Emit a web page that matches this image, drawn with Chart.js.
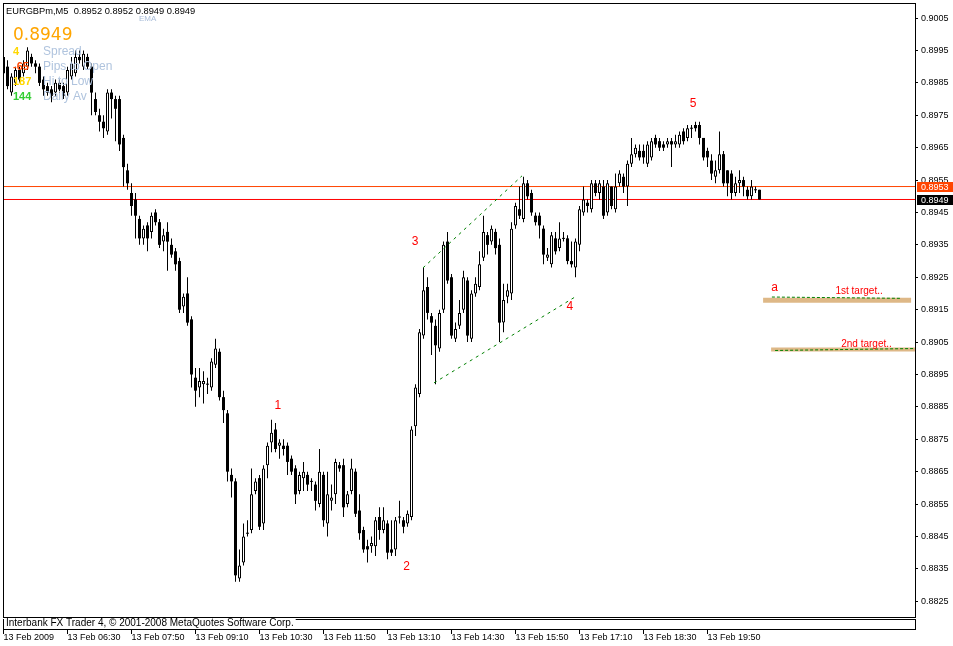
<!DOCTYPE html>
<html>
<head>
<meta charset="utf-8">
<title>EURGBPm,M5</title>
<script src="https://cdn.jsdelivr.net/npm/chart.js@4.4.1/dist/chart.umd.min.js"></script>
<style>
html,body{margin:0;padding:0;background:#ffffff;overflow:hidden;}
canvas{display:block;}
</style>
</head>
<body>
<canvas id="chart" width="953" height="646"></canvas>
<script>
// ---------------- data ----------------
const symbolTitle = 'EURGBPm,M5  0.8952 0.8952 0.8949 0.8949';
const lastPriceText = '0.8949';

const opens = [
0.8993,0.8990,0.8982,0.8985,0.8989,0.8988,0.8990,0.8993,0.8991,0.8990,
0.8986,0.8984,0.8983,0.8982,0.8985,0.8984,0.8982,0.8987,0.8988,0.8993,
0.8990,0.8993,0.8990,0.8980,0.8975,0.8973,0.8970,0.8982,0.8980,0.8980,
0.8968,0.8958,0.8951,0.8949,0.8943,0.8937,0.8941,0.8939,0.8945,0.8942,
0.8936,0.8939,0.8935,0.8933,0.8930,0.8916,0.8920,0.8912,0.8894,0.8891,
0.8892,0.8892,0.8891,0.8898,0.8902,0.8888,0.8883,0.8864,0.8862,0.8832,
0.8837,0.8846,0.8847,0.8859,0.8863,0.8849,0.8867,0.8874,0.8878,0.8873,
0.8873,0.8873,0.8869,0.8866,0.8859,0.8863,0.8864,0.8862,0.8861,0.8855,
0.8864,0.8849,0.8856,0.8858,0.8867,0.8867,0.8855,0.8859,0.8865,0.8853,
0.8847,0.8842,0.8842,0.8842,0.8851,0.8847,0.8849,0.8841,0.8841,0.8851,
0.8850,0.8849,0.8851,0.8879,0.8889,0.8907,0.8922,0.8913,0.8910,0.8903,
0.8915,0.8936,0.8925,0.8906,0.8910,0.8915,0.8924,0.8906,0.8920,0.8922,
0.8931,0.8938,0.8936,0.8939,0.8935,0.8911,0.8919,0.8920,0.8941,0.8946,
0.8943,0.8954,0.8951,0.8944,0.8944,0.8940,0.8931,0.8929,0.8937,0.8934,
0.8937,0.8937,0.8930,0.8928,0.8935,0.8945,0.8948,0.8946,0.8954,0.8951,
0.8953,0.8945,0.8953,0.8946,0.8954,0.8956,0.8953,0.8960,0.8963,0.8964,
0.8964,0.8960,0.8962,0.8968,0.8967,0.8966,0.8966,0.8967,0.8966,0.8966,
0.8970,0.8968,0.8971,0.8972,0.8972,0.8968,0.8964,0.8961,0.8956,0.8958,
0.8963,0.8958,0.8957,0.8951,0.8954,0.8955,0.8952,0.8950,0.8952,0.8952];

const highs = [
0.8994,0.8992,0.8988,0.8990,0.8990,0.8992,0.8996,0.8994,0.8992,0.8991,
0.8987,0.8985,0.8984,0.8986,0.8986,0.8985,0.8990,0.8993,0.8995,0.8995,
0.8995,0.8994,0.8991,0.8982,0.8977,0.8975,0.8983,0.8983,0.8981,0.8981,
0.8969,0.8960,0.8954,0.8951,0.8944,0.8941,0.8942,0.8945,0.8946,0.8943,
0.8940,0.8942,0.8937,0.8934,0.8931,0.8920,0.8925,0.8913,0.8897,0.8897,
0.8896,0.8894,0.8900,0.8906,0.8903,0.8890,0.8884,0.8866,0.8863,0.8841,
0.8849,0.8850,0.8866,0.8863,0.8864,0.8867,0.8874,0.8881,0.8880,0.8875,
0.8875,0.8874,0.8870,0.8867,0.8865,0.8868,0.8865,0.8863,0.8862,0.8872,
0.8865,0.8865,0.8861,0.8869,0.8868,0.8869,0.8859,0.8869,0.8866,0.8858,
0.8848,0.8844,0.8845,0.8851,0.8854,0.8854,0.8850,0.8850,0.8851,0.8856,
0.8851,0.8853,0.8879,0.8892,0.8909,0.8928,0.8925,0.8914,0.8912,0.8915,
0.8936,0.8939,0.8926,0.8911,0.8918,0.8927,0.8925,0.8921,0.8925,0.8933,
0.8944,0.8939,0.8941,0.8940,0.8937,0.8923,0.8923,0.8942,0.8948,0.8953,
0.8956,0.8955,0.8952,0.8945,0.8945,0.8941,0.8934,0.8939,0.8939,0.8942,
0.8939,0.8938,0.8936,0.8937,0.8947,0.8953,0.8949,0.8955,0.8955,0.8955,
0.8955,0.8955,0.8953,0.8957,0.8958,0.8957,0.8961,0.8968,0.8966,0.8966,
0.8966,0.8967,0.8968,0.8969,0.8968,0.8967,0.8968,0.8968,0.8969,0.8970,
0.8971,0.8972,0.8972,0.8973,0.8973,0.8968,0.8965,0.8963,0.8961,0.8970,
0.8964,0.8958,0.8958,0.8956,0.8958,0.8956,0.8953,0.8955,0.8953,0.8952];

const lows = [
0.8987,0.8983,0.8981,0.8984,0.8985,0.8987,0.8989,0.8990,0.8988,0.8984,
0.8981,0.8981,0.8979,0.8981,0.8982,0.8980,0.8981,0.8986,0.8987,0.8991,
0.8989,0.8989,0.8975,0.8975,0.8970,0.8968,0.8969,0.8974,0.8967,0.8964,
0.8953,0.8952,0.8944,0.8937,0.8935,0.8935,0.8933,0.8937,0.8941,0.8934,
0.8933,0.8927,0.8931,0.8927,0.8914,0.8914,0.8910,0.8891,0.8885,0.8888,
0.8886,0.8889,0.8890,0.8897,0.8887,0.8880,0.8862,0.8857,0.8831,0.8831,
0.8836,0.8845,0.8846,0.8858,0.8847,0.8847,0.8863,0.8871,0.8871,0.8869,
0.8870,0.8864,0.8864,0.8855,0.8858,0.8859,0.8859,0.8859,0.8853,0.8854,
0.8848,0.8845,0.8853,0.8855,0.8865,0.8851,0.8854,0.8858,0.8851,0.8844,
0.8840,0.8837,0.8840,0.8839,0.8844,0.8846,0.8838,0.8839,0.8839,0.8849,
0.8846,0.8848,0.8850,0.8876,0.8888,0.8906,0.8912,0.8901,0.8892,0.8902,
0.8914,0.8923,0.8906,0.8905,0.8909,0.8914,0.8905,0.8905,0.8919,0.8921,
0.8930,0.8932,0.8935,0.8932,0.8905,0.8908,0.8917,0.8918,0.8940,0.8943,
0.8942,0.8949,0.8944,0.8941,0.8937,0.8929,0.8930,0.8928,0.8932,0.8933,
0.8936,0.8929,0.8928,0.8925,0.8933,0.8944,0.8945,0.8945,0.8950,0.8949,
0.8943,0.8944,0.8946,0.8945,0.8953,0.8951,0.8947,0.8959,0.8962,0.8961,
0.8960,0.8959,0.8961,0.8965,0.8964,0.8964,0.8965,0.8959,0.8965,0.8965,
0.8966,0.8967,0.8968,0.8970,0.8966,0.8961,0.8959,0.8955,0.8954,0.8957,
0.8953,0.8950,0.8949,0.8950,0.8951,0.8950,0.8949,0.8949,0.8951,0.8949];

const closes = [
0.8988,0.8984,0.8987,0.8989,0.8986,0.8991,0.8995,0.8991,0.8990,0.8985,
0.8983,0.8982,0.8981,0.8985,0.8983,0.8981,0.8989,0.8991,0.8993,0.8992,
0.8994,0.8990,0.8982,0.8976,0.8973,0.8971,0.8982,0.8980,0.8977,0.8966,
0.8959,0.8954,0.8947,0.8944,0.8937,0.8940,0.8937,0.8944,0.8942,0.8935,
0.8938,0.8936,0.8932,0.8929,0.8915,0.8919,0.8911,0.8895,0.8890,0.8893,
0.8893,0.8892,0.8899,0.8903,0.8888,0.8884,0.8865,0.8862,0.8833,0.8836,
0.8845,0.8846,0.8858,0.8862,0.8848,0.8866,0.8873,0.8877,0.8872,0.8874,
0.8872,0.8868,0.8865,0.8858,0.8864,0.8865,0.8861,0.8862,0.8856,0.8865,
0.8850,0.8858,0.8857,0.8868,0.8866,0.8854,0.8858,0.8866,0.8852,0.8846,
0.8841,0.8841,0.8843,0.8850,0.8847,0.8850,0.8840,0.8840,0.8850,0.8851,
0.8848,0.8852,0.8878,0.8891,0.8908,0.8921,0.8914,0.8911,0.8904,0.8914,
0.8935,0.8924,0.8907,0.8909,0.8914,0.8925,0.8907,0.8920,0.8923,0.8929,
0.8939,0.8935,0.8940,0.8934,0.8911,0.8918,0.8921,0.8940,0.8947,0.8944,
0.8954,0.8950,0.8945,0.8942,0.8941,0.8932,0.8932,0.8938,0.8933,0.8937,
0.8937,0.8930,0.8929,0.8936,0.8946,0.8949,0.8947,0.8954,0.8951,0.8954,
0.8944,0.8954,0.8947,0.8953,0.8957,0.8953,0.8960,0.8963,0.8965,0.8962,
0.8962,0.8966,0.8967,0.8966,0.8965,0.8965,0.8967,0.8966,0.8967,0.8969,
0.8967,0.8971,0.8971,0.8971,0.8968,0.8962,0.8962,0.8957,0.8958,0.8963,
0.8954,0.8954,0.8951,0.8954,0.8955,0.8953,0.8950,0.8953,0.8952,0.8949];

const timeLabels = ['13 Feb 2009','13 Feb 06:30','13 Feb 07:50','13 Feb 09:10','13 Feb 10:30','13 Feb 11:50',
  '13 Feb 13:10','13 Feb 14:30','13 Feb 15:50','13 Feb 17:10','13 Feb 18:30','13 Feb 19:50'];
const barsPerTimeLabel = 16;
const priceTicks = [0.8825,0.8835,0.8845,0.8855,0.8865,0.8875,0.8885,0.8895,0.8905,0.8915,
  0.8925,0.8935,0.8945,0.8955,0.8965,0.8975,0.8985,0.8995,0.9005];

const bidPrice = 0.8949;
const askPrice = 0.8953;
const infoValues = ['4', '-65', '187', '144'];
const infoNames = ['Spread', 'Pips to Open', 'Hi to Low', 'Daily Av'];

// objects drawn on the chart (bar index, price)
const upperTrend = [{x:104.875, y:0.89279}, {x:129.625, y:0.89563}];
const lowerTrend = [{x:107.625, y:0.88924}, {x:142.875, y:0.89189}];
const target1Zone = [{x:189.9, y:0.89179}, {x:226.9, y:0.89179}];
const target2Zone = [{x:191.9, y:0.89027}, {x:227.9, y:0.89027}];
const target1Line = [{x:192.1, y:0.89189}, {x:224.1, y:0.89185}];
const target2Line = [{x:192.9, y:0.89024}, {x:227.4, y:0.89030}];
const waveTexts  = ['1', '2', '3', '4', '5', 'a', '1st target..', '2nd target..'];
const waveBars   = [68.6, 100.75, 102.9, 141.6, 172.4, 192.75, 213.9, 215.75];
const wavePrices = [0.88844, 0.88347, 0.89350, 0.89149, 0.89776, 0.89208, 0.89199, 0.89035];

const xMin = -0.125, xMax = 227.875;
const yMin = 0.8820142, yMax = 0.9009648;

// ---------------- build datasets ----------------
const wickData = [], upData = [], downData = [], dojiData = [];
for (let i = 0; i < opens.length; i++) {
  wickData.push({x: i, y: [lows[i], highs[i]]});
  if (closes[i] > opens[i]) upData.push({x: i, y: [opens[i], closes[i]]});
  else if (closes[i] < opens[i]) downData.push({x: i, y: [closes[i], opens[i]]});
  else dojiData.push({x: i, y: closes[i]});
}

const FONT = "'Liberation Sans', Arial, sans-serif";
Chart.defaults.font.family = FONT;

const barCommon = {grouped: false, borderSkipped: false, inflateAmount: 0};
const lineCommon = {type: 'line', pointRadius: 0, fill: false, tension: 0, borderWidth: 1};

const overlay = {
  id: 'mt4overlay',
  afterDatasetsDraw(chart) {
    const {ctx, scales: {x, y}} = chart;
    ctx.save();
    ctx.textBaseline = 'alphabetic';
    ctx.textAlign = 'left';
    ctx.fillStyle = '#000';
    ctx.font = '9.3px ' + FONT;
    ctx.fillText(symbolTitle, 6, 14);
    ctx.fillStyle = '#a8bcd8';
    ctx.font = '8px ' + FONT;
    ctx.fillText('EMA', 139, 21);
    ctx.fillStyle = '#ffa500';
    ctx.font = "17px 'DejaVu Sans', sans-serif";
    ctx.fillText(lastPriceText, 13, 40);
    const valueColors = ['#ffd700', '#ff4500', '#ffd700', '#32cd32'];
    infoValues.forEach((v, k) => {
      const base = 55 + 15 * k;
      ctx.font = 'bold 11px ' + FONT;
      ctx.fillStyle = valueColors[k];
      ctx.fillText(v, 13, base);
      ctx.font = '12px ' + FONT;
      ctx.fillStyle = '#b0c4de';
      ctx.fillText(infoNames[k], 43, base);
    });
    ctx.fillStyle = '#ff0000';
    ctx.textAlign = 'center';
    waveTexts.forEach((t, k) => {
      ctx.font = (t.length > 1 ? '10px ' : '12px ') + FONT;
      ctx.fillText(t, x.getPixelForValue(waveBars[k]), y.getPixelForValue(wavePrices[k]));
    });
    ctx.restore();
  },
  afterDraw(chart) {
    const {ctx, chartArea: a, scales: {y}} = chart;
    ctx.save();
    // lower strip
    ctx.fillStyle = '#fff';
    ctx.fillRect(a.left, a.bottom + 1, a.right - a.left + 1, 12);
    ctx.strokeStyle = '#000';
    ctx.lineWidth = 1;
    ctx.strokeRect(a.left + 0.5, a.top + 0.5, a.right - a.left, a.bottom - a.top);
    ctx.strokeRect(a.left + 0.5, a.bottom + 2.5, a.right - a.left, 10);
    ctx.font = '10px ' + FONT;
    ctx.textAlign = 'left';
    ctx.textBaseline = 'alphabetic';
    const copy = 'Interbank FX Trader 4, \u00A9 2001-2008 MetaQuotes Software Corp.';
    const w = ctx.measureText(copy).width;
    ctx.fillStyle = '#fff';
    ctx.fillRect(a.left + 1, a.bottom + 1, w + 4, 11);
    ctx.fillStyle = '#000';
    ctx.fillText(copy, a.left + 3, a.bottom + 9);
    // price boxes on the axis
    ctx.font = '9px ' + FONT;
    [[askPrice, '#ff4500'], [bidPrice, '#000000']].forEach(([p, col]) => {
      const py = y.getPixelForValue(p);
      const top = Math.round(py - 4.5);
      ctx.fillStyle = col;
      ctx.fillRect(a.right + 2, top, 36, 10);
      ctx.fillStyle = '#fff';
      ctx.fillText(p.toFixed(4), a.right + 6, top + 8);
    });
    ctx.restore();
  }
};

new Chart(document.getElementById('chart'), {
  type: 'bar',
  data: {
    datasets: [
      {...lineCommon, label: 'bid', data: [{x: xMin, y: bidPrice}, {x: xMax, y: bidPrice}], borderColor: '#ff0000', order: 10},
      {...lineCommon, label: 'ask', data: [{x: xMin, y: askPrice}, {x: xMax, y: askPrice}], borderColor: '#ff4500', order: 10},
      {...lineCommon, label: '1st target zone', data: target1Zone, borderColor: '#deb887', borderWidth: 5, borderCapStyle: 'butt', order: 9},
      {...lineCommon, label: '2nd target zone', data: target2Zone, borderColor: '#deb887', borderWidth: 4, borderCapStyle: 'butt', order: 9},
      {type: 'bar', label: 'wicks', data: wickData, backgroundColor: '#000', borderWidth: 0, barThickness: 1, order: 5, ...barCommon},
      {type: 'bar', label: 'down', data: downData, backgroundColor: '#000', borderWidth: 0, barThickness: 3, order: 4, ...barCommon},
      {type: 'bar', label: 'up', data: upData, backgroundColor: '#fff', borderColor: '#000', borderWidth: 1, barThickness: 3, order: 4, ...barCommon},
      {type: 'line', label: 'doji', data: dojiData, showLine: false, pointStyle: 'line', pointRadius: 1.5,
        pointBorderColor: '#000', pointBorderWidth: 1, order: 3},
      {...lineCommon, label: 'upper', data: upperTrend, borderColor: '#008000', borderDash: [3, 4], order: 1},
      {...lineCommon, label: 'lower', data: lowerTrend, borderColor: '#008000', borderDash: [3, 4], order: 1},
      {...lineCommon, label: 't1', data: target1Line, borderColor: '#008000', borderDash: [3, 2], order: 0},
      {...lineCommon, label: 't2', data: target2Line, borderColor: '#008000', borderDash: [3, 2], order: 0}
    ]
  },
  options: {
    responsive: false,
    animation: false,
    devicePixelRatio: 1,
    events: [],
    layout: {padding: {left: 3, top: 3, right: 0, bottom: 0}, autoPadding: false},
    plugins: {legend: {display: false}, tooltip: {enabled: false}},
    scales: {
      x: {
        type: 'linear', position: 'bottom', min: xMin, max: xMax, offset: false, bounds: 'data',
        afterBuildTicks: s => { s.ticks = timeLabels.map((t, k) => ({value: k * barsPerTimeLabel})); },
        afterFit: s => { s.height = 29; s.paddingLeft = 0; s.paddingRight = 0; },
        grid: {display: true, drawOnChartArea: false, drawTicks: true, tickLength: 17, color: '#000', offset: false},
        border: {display: false},
        ticks: {
          autoSkip: false, maxRotation: 0, minRotation: 0, align: 'start', padding: -1,
          color: '#000', font: {size: 9, lineHeight: 1},
          callback: v => timeLabels[Math.round(v / barsPerTimeLabel)]
        }
      },
      y: {
        type: 'linear', position: 'right', min: yMin, max: yMax, bounds: 'data',
        afterBuildTicks: s => { s.ticks = priceTicks.map(v => ({value: v})); },
        afterFit: s => { s.width = 38; s.paddingTop = 0; s.paddingBottom = 0; },
        grid: {display: true, drawOnChartArea: false, drawTicks: true, tickLength: 3, color: '#000'},
        border: {display: false},
        ticks: {autoSkip: false, padding: 3, color: '#000', font: {size: 9}, callback: v => v.toFixed(4)}
      }
    }
  },
  plugins: [overlay]
});
</script>
</body>
</html>
